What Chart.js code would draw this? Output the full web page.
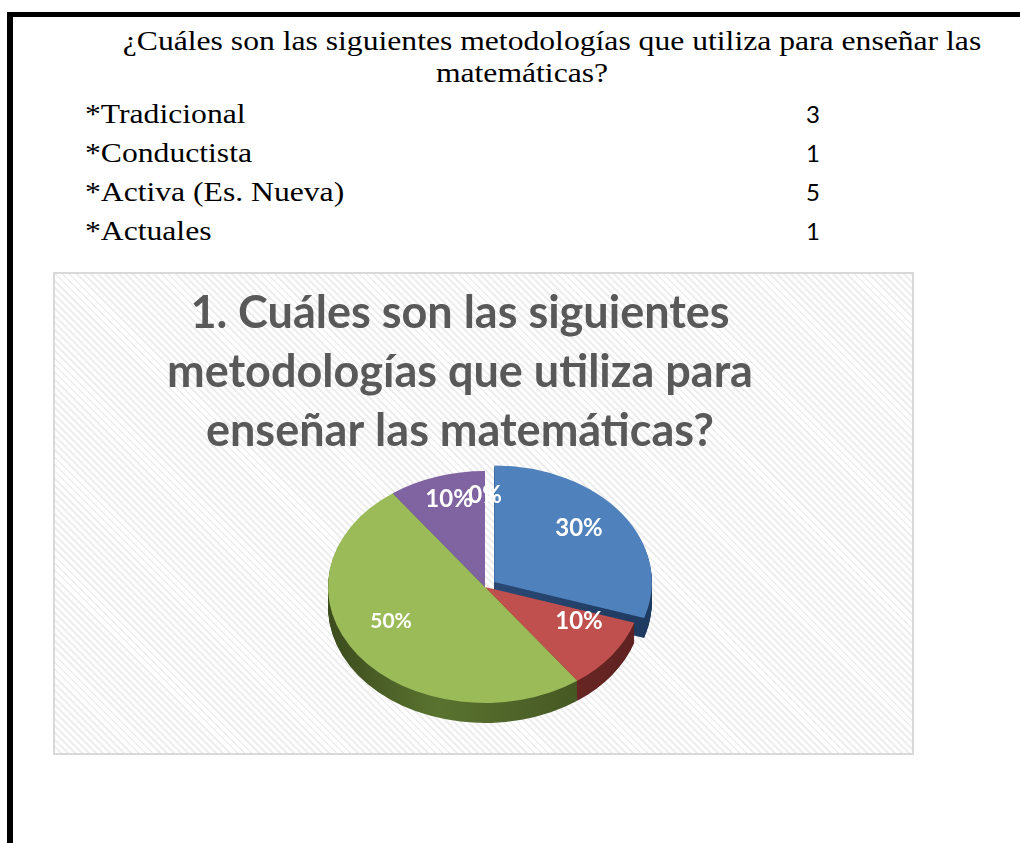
<!DOCTYPE html>
<html>
<head>
<meta charset="utf-8">
<script src="https://cdn.jsdelivr.net/npm/chart.js@4"></script>
<style>
  body { margin: 0; width: 1020px; height: 843px; background: #fff; overflow: hidden; position: relative; }
  .bar { position: absolute; background: #000; }
  .serif { position: absolute; font-family: "Liberation Serif", "Times New Roman", serif; font-size: 28px; color: #000; white-space: nowrap; }
  .line { width: 1000px; text-align: center; line-height: 32px; transform: scaleX(1.13); }
  .rows { line-height: 39px; transform: scaleX(1.13); transform-origin: 0 0; }
  .nums { position: absolute; left: 806px; top: 94px; font-family: Lato, sans-serif; font-size: 24px; line-height: 39px; color: #000; }
  #box {
    position: absolute; left: 53px; top: 272px; width: 861px; height: 483px;
    box-sizing: border-box; border: 2px solid #d9d9d9;
    background: repeating-linear-gradient(45deg, #ffffff 0px, #ffffff 3px, #eeeeee 3px, #eeeeee 5px);
  }
  #pie { position: absolute; left: 0; top: 0; }
</style>
</head>
<body>
<div class="bar" style="left:7px; top:12px; width:1013px; height:5px;"></div>
<div class="bar" style="left:7px; top:12px; width:6px; height:831px;"></div>

<div class="serif line" style="left:52px; top:25px;">¿Cuáles son las siguientes metodologías que utiliza para enseñar las</div>
<div class="serif line" style="left:22px; top:57px;">matemáticas?</div>

<div class="serif rows" style="left:85px; top:94px;" id="rowLabels"></div>
<div class="nums" id="rowValues"></div>

<div id="box"><canvas id="pie" width="857" height="479"></canvas></div>

<script>
// DATA
const categories = ['Tradicional', 'Conductista', 'Activa (Es. Nueva)', 'Actuales', ''];
const counts = [3, 1, 5, 1, 0];
const tableLabels = ['*Tradicional', '*Conductista', '*Activa (Es. Nueva)', '*Actuales'];
const tableValues = [3, 1, 5, 1];
const titleLines = ['1. Cuáles son las siguientes', 'metodologías que utiliza para', 'enseñar las matemáticas?'];

// colours, one per slice
const topColors = ['#4f81bd', '#c0504d', '#9bbb59', '#8064a2', '#bfbfbf'];
const sideColors = [['#1f3a5f', '#2c4d7a'], ['#5e2220', '#7a2e2c'], ['#3c4c1d', '#5a7330'], ['#3b2d50', '#54426e'], ['#999', '#bbb']];
const explode = [36, 0, 0, 0, 0];
const labelSizes = [24, 24, 21, 24, 24];

// TABLE ABOVE THE CHART
document.getElementById('rowLabels').innerHTML = tableLabels.map(t => `<div>${t}</div>`).join('');
document.getElementById('rowValues').innerHTML = tableValues.map(v => `<div>${v}</div>`).join('');

// where the flattened pie sits in the canvas
const pieCenter = { x: 430, y: 313 };
const pieRadius = { x: 157, y: 116 };
const depth = 20;

function squash(ctx, arc) {
  ctx.translate(pieCenter.x, pieCenter.y);
  ctx.scale(pieRadius.x / arc.outerRadius, pieRadius.y / arc.outerRadius);
  ctx.translate(-arc.x, -arc.y);
}

function sideFill(ctx, arc, i) {
  const g = ctx.createLinearGradient(arc.x - arc.outerRadius, 0, arc.x + arc.outerRadius, 0);
  g.addColorStop(0, sideColors[i][0]);
  g.addColorStop(0.35, sideColors[i][1]);
  g.addColorStop(1, sideColors[i][0]);
  return g;
}

const pie3d = {
  id: 'pie3d',
  beforeDatasetsDraw(chart) {
    const ctx = chart.ctx;
    const arcs = chart.getDatasetMeta(0).data;
    for (let d = depth; d > 0; d--) {
      ctx.save();
      ctx.translate(0, d);
      squash(ctx, arcs[0]);
      arcs.forEach((arc, i) => {
        const ghost = Object.create(arc);
        ghost.options = Object.assign({}, arc.options, { backgroundColor: sideFill(ctx, arc, i), borderWidth: 0 });
        ghost.draw(ctx);
      });
      ctx.restore();
    }
    ctx.save();
    squash(ctx, arcs[0]);
  },
  afterDatasetsDraw(chart) {
    const ctx = chart.ctx;
    ctx.restore();
    const arcs = chart.getDatasetMeta(0).data;
    const total = counts.reduce((a, b) => a + b, 0);
    ctx.save();
    ctx.fillStyle = '#ffffff';
    ctx.textAlign = 'center';
    ctx.textBaseline = 'middle';
    arcs.forEach((arc, i) => {
      const mid = (arc.startAngle + arc.endAngle) / 2;
      const x = pieCenter.x + Math.cos(mid) * 0.74 * pieRadius.x;
      const y = pieCenter.y - 12 + Math.sin(mid) * 0.75 * (pieRadius.y - 10);
      ctx.font = `bold ${labelSizes[i]}px Lato, sans-serif`;
      ctx.fillText(Math.round(counts[i] / total * 100) + '%', x, y);
    });
    ctx.restore();
  }
};

const ctx = document.getElementById('pie').getContext('2d');
new Chart(ctx, {
  type: 'pie',
  data: {
    labels: categories,
    datasets: [{
      data: counts,
      backgroundColor: topColors,
      borderWidth: 0,
      offset: explode,
      clip: false
    }]
  },
  options: {
    responsive: false,
    animation: false,
    layout: { padding: { right: 47 } },
    plugins: {
      legend: { display: false },
      tooltip: { enabled: false },
      title: {
        display: true,
        text: titleLines,
        color: '#595959',
        font: { family: 'Lato', size: 45, weight: 'bold', lineHeight: 1.31 },
        padding: { top: 10, bottom: 10 }
      }
    }
  },
  plugins: [pie3d]
});
</script>
</body>
</html>
